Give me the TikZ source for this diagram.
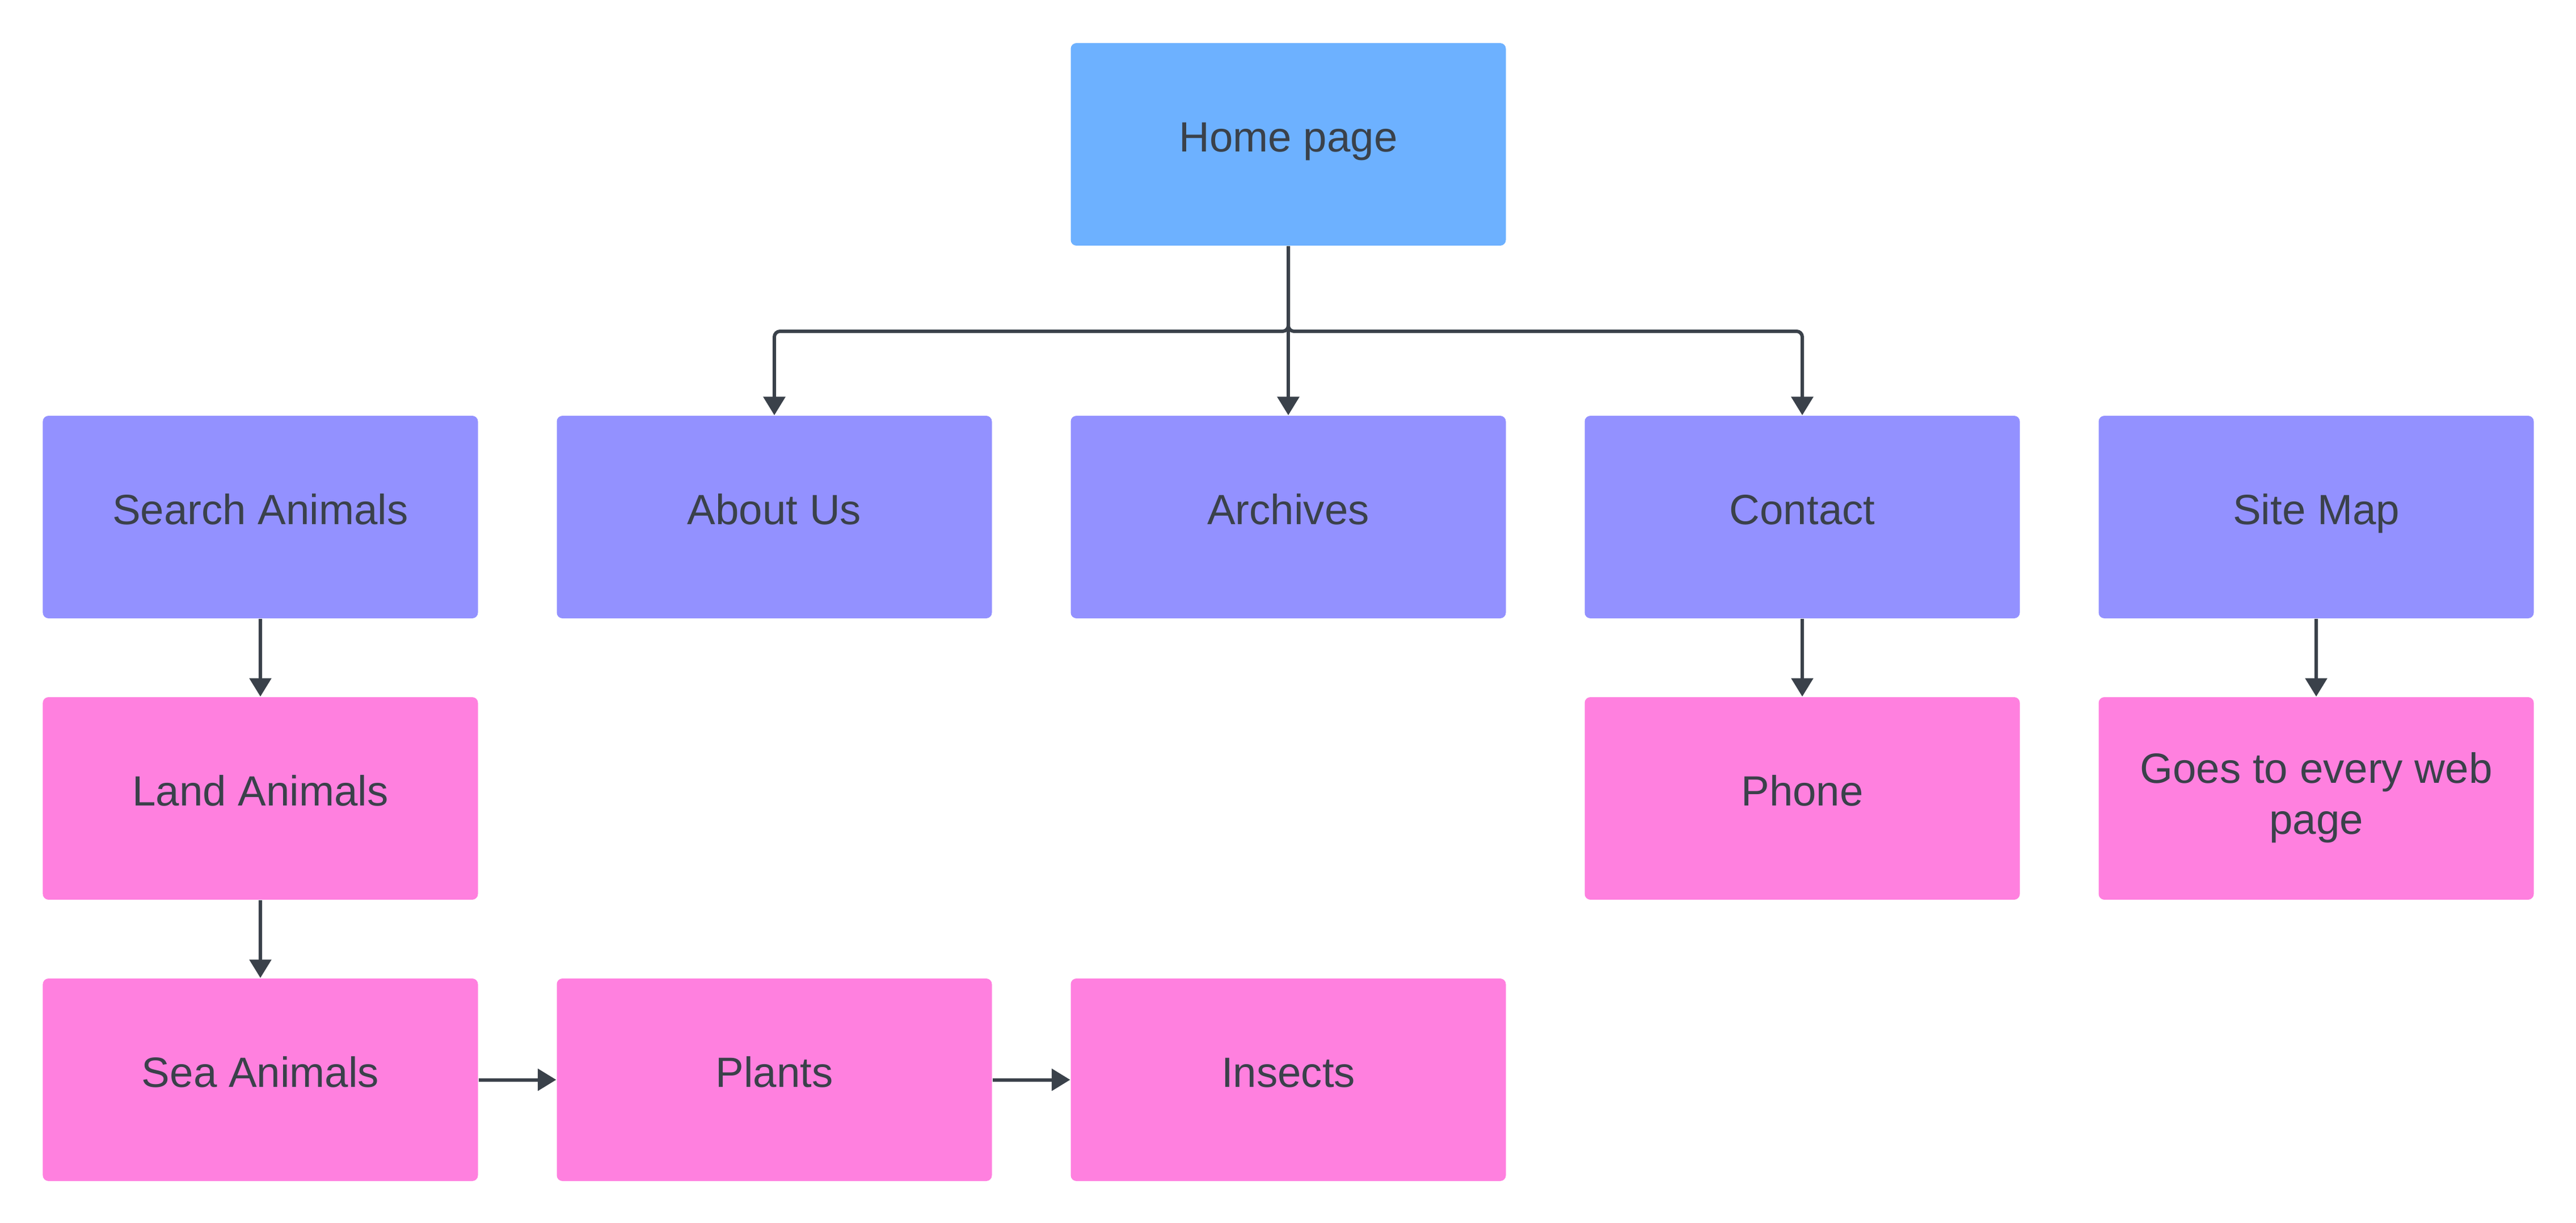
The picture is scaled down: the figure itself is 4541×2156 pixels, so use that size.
\documentclass[tikz,border=0pt]{standalone}
\usepackage{fontspec}
\setmainfont{Liberation Sans}
\usetikzlibrary{arrows.meta}
\definecolor{homeblue}{HTML}{6DB1FF}
\definecolor{navpurple}{HTML}{9391FF}
\definecolor{subpink}{HTML}{FF80DF}
\definecolor{ink}{HTML}{3A414A}
\begin{document}
\begin{tikzpicture}[x=0.2pt,y=-0.2pt,
  box/.style={rectangle, rounded corners=2pt, minimum width=153.4pt, minimum height=71.4pt, inner sep=0pt, draw=none},
  homebox/.style={box, fill=homeblue},
  navbox/.style={box, fill=navpurple},
  subbox/.style={box, fill=subpink},
  lbl/.style={anchor=base, inner sep=0pt, text=ink, font=\fontsize{14.9pt}{18pt}\selectfont},
  conn/.style={draw=ink, line width=1.2pt, -{Triangle[width=7.6pt,length=6.5pt]}},
  bus/.style={conn, rounded corners=2pt}]
\useasboundingbox (0,0) rectangle (4541,2156);
% boxes
\node[homebox] (home) at (2271,254.5) {};
\node[navbox] (search) at (459,911.5) {};
\node[navbox] (about) at (1365,911.5) {};
\node[navbox] (archives) at (2271,911.5) {};
\node[navbox] (contact) at (3177,911.5) {};
\node[navbox] (sitemap) at (4083,911.5) {};
\node[subbox] (land) at (459,1407.5) {};
\node[subbox] (phone) at (3177,1407.5) {};
\node[subbox] (goes) at (4083,1407.5) {};
\node[subbox] (sea) at (459,1903.5) {};
\node[subbox] (plants) at (1365,1903.5) {};
\node[subbox] (insects) at (2271,1903.5) {};
% labels
\node[lbl] (homeT) at ([yshift=-2.6pt]home.center) {Home page};
\node[lbl] (searchT) at ([yshift=-2.6pt]search.center) {Search Animals};
\node[lbl] (aboutT) at ([yshift=-2.6pt]about.center) {About Us};
\node[lbl] (archivesT) at ([yshift=-2.6pt]archives.center) {Archives};
\node[lbl] (contactT) at ([yshift=-2.6pt]contact.center) {Contact};
\node[lbl] (sitemapT) at ([yshift=-2.6pt]sitemap.center) {Site Map};
\node[lbl] (landT) at ([yshift=-2.6pt]land.center) {Land Animals};
\node[lbl] (phoneT) at ([yshift=-2.6pt]phone.center) {Phone};
\node[lbl] (goesTa) at ([yshift=5.5pt]goes.center) {Goes to every web};
\node[lbl] (goesTb) at ([yshift=-12.5pt]goes.center) {page};
\node[lbl] (seaT) at ([yshift=-2.6pt]sea.center) {Sea Animals};
\node[lbl] (plantsT) at ([yshift=-2.6pt]plants.center) {Plants};
\node[lbl] (insectsT) at ([yshift=-2.6pt]insects.center) {Insects};
% connectors
\draw[bus] (home.south) -- ++(0,150) -| (about.north);
\draw[bus] (home.south) -- ++(0,150) -| (contact.north);
\draw[conn] (home.south) -- (archives.north);
\draw[conn] (search.south) -- (land.north);
\draw[conn] (land.south) -- (sea.north);
\draw[conn] (contact.south) -- (phone.north);
\draw[conn] (sitemap.south) -- (goes.north);
\draw[conn] (sea.east) -- (plants.west);
\draw[conn] (plants.east) -- (insects.west);
\end{tikzpicture}
\end{document}
